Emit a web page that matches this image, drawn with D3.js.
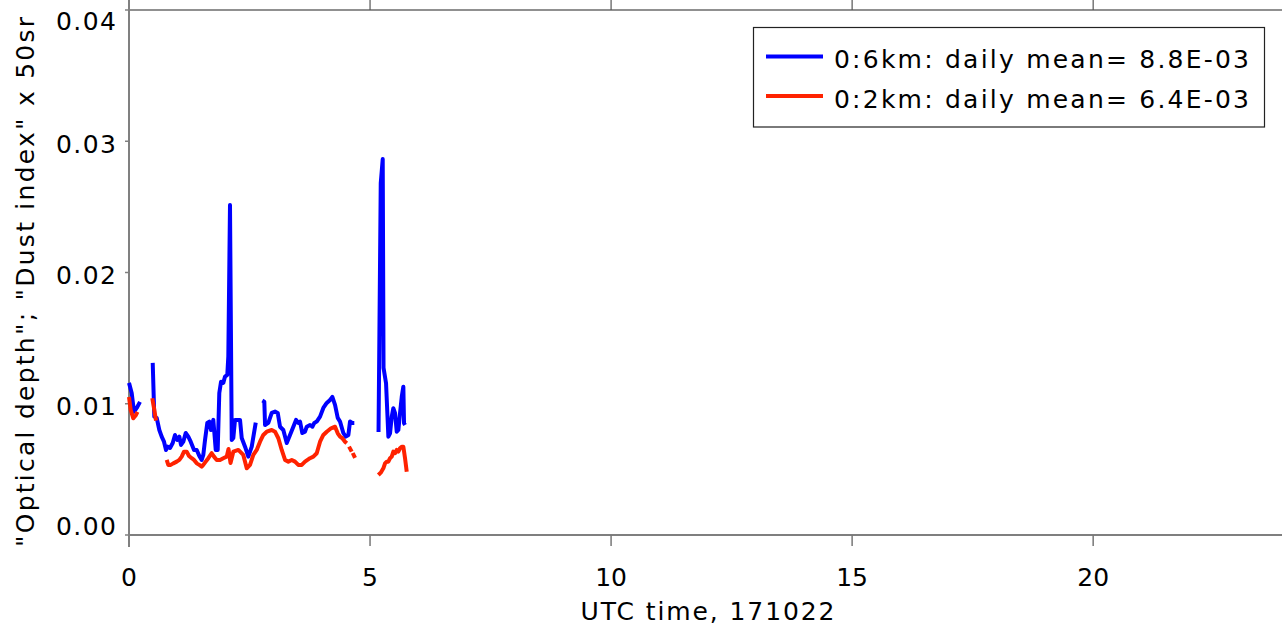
<!DOCTYPE html>
<html>
<head>
<meta charset="utf-8">
<script src="https://cdn.jsdelivr.net/npm/d3@7"></script>
<style>
  html, body { margin: 0; padding: 0; background: #fff; overflow: hidden; }
  svg { display: block; }
  text { font-family: "DejaVu Sans", sans-serif; fill: #000; }
</style>
</head>
<body>
<svg id="chart" width="1282" height="629"></svg>
<script>
// ---------------- data ----------------
const xDomain = [0, 24];
const yDomain = [0, 0.04];
const xTickValues = [0, 5, 10, 15, 20];
const xTickLabels = ["0", "5", "10", "15", "20"];
const yTickValues = [0, 0.01, 0.02, 0.03, 0.04];
const yTickLabels = ["0.00", "0.01", "0.02", "0.03", "0.04"];

// 0:6km series (blue); null marks a data gap
const blueTime = [
  0.000, 0.056, 0.104, 0.160, 0.228, null,
  0.492, 0.525, 0.575, 0.629, 0.678, 0.726, 0.768, 0.803, 0.851, 0.907, 0.954, 1.002, 1.044, 1.079,
  1.127, 1.176, 1.230, 1.280, 1.349, 1.405, 1.459, 1.508, 1.541, 1.577, 1.624, 1.666, 1.701, 1.749,
  1.799, 1.840, 1.873, 1.909, 1.956, 1.992, 2.039, 2.060, 2.095, 2.131, 2.164, 2.199, 2.303, 2.338,
  2.407, 2.475, 2.546, 2.629, null,
  2.766, 2.807, 2.822, 2.890, 2.961, 3.029, 3.085, 3.133, 3.201, 3.272, 3.340, 3.409, 3.465, 3.512,
  3.548, 3.595, 3.651, 3.687, 3.755, 3.803, 3.844, 3.894, 3.963, 4.031, 4.102, 4.170, 4.218, 4.274,
  4.330, 4.378, 4.446, 4.496, 4.550, 4.585, 4.633, 4.674, null,
  5.176, 5.222, 5.263, 5.280, 5.332, 5.380, 5.415, 5.450, 5.483, 5.519, 5.554, 5.587, 5.622, 5.658,
  5.691, 5.705, 5.726
];
const blueValue = [
  0.01159, 0.01082, 0.00938, 0.00968, 0.01014, null,
  0.01311, 0.00902, 0.00892, 0.00800, 0.00749, 0.00711, 0.00648, 0.00673, 0.00663, 0.00701, 0.00762, 0.00724, 0.00749, 0.00686,
  0.00711, 0.00777, 0.00749, 0.00711, 0.00648, 0.00648, 0.00602, 0.00572, 0.00610, 0.00724, 0.00854, 0.00864, 0.00800, 0.00877,
  0.00648, 0.00648, 0.01082, 0.01168, 0.01159, 0.01207, 0.01220, 0.01359, 0.02515, 0.00724, 0.00739, 0.00877, 0.00877, 0.00739,
  0.00673, 0.00597, 0.00673, 0.00856, null,
  0.01024, 0.01016, 0.00838, 0.00854, 0.00930, 0.00940, 0.00930, 0.00825, 0.00800, 0.00701, 0.00762, 0.00825, 0.00877, 0.00854,
  0.00864, 0.00777, 0.00787, 0.00825, 0.00838, 0.00825, 0.00854, 0.00864, 0.00902, 0.00968, 0.01006, 0.01029, 0.01052, 0.00991,
  0.00892, 0.00864, 0.00777, 0.00749, 0.00762, 0.00864, 0.00854, 0.00854, null,
  0.00785, 0.02681, 0.02864, 0.01273, 0.01156, 0.00749, 0.00775, 0.00902, 0.00966, 0.00928, 0.00787, 0.00800, 0.00928, 0.01054,
  0.01130, 0.00851, 0.00838
];

// 0:2km series (red); null marks a data gap
const redTime = [
  0.000, 0.035, 0.089, 0.145, 0.176, null,
  0.483, 0.525, 0.560, null,
  0.782, 0.815, 0.865, 0.919, 0.990, 1.044, 1.093, 1.141, 1.197, 1.245, 1.301, 1.349, 1.405, 1.459,
  1.508, 1.541, 1.591, 1.645, 1.716, 1.763, 1.820, 1.888, 1.956, 2.027, 2.064, 2.106, 2.164, 2.268,
  2.371, 2.442, 2.510, 2.579, 2.649, 2.718, 2.786, 2.857, 2.961, 3.029, 3.098, 3.168, 3.237, 3.305,
  3.376, 3.444, 3.512, 3.583, 3.651, 3.755, 3.824, 3.894, 3.963, 4.031, 4.102, 4.191, 4.274, 4.330,
  4.378, 4.426, 4.481, 4.517, null,
  4.564, 4.620, null,
  4.641, 4.689, null,
  5.172, 5.222, 5.276, 5.311, 5.346, 5.380, 5.415, 5.450, 5.483, 5.519, 5.554, 5.587, 5.622, 5.658,
  5.691, 5.726, 5.761
];
const redValue = [
  0.01052, 0.00953, 0.00889, 0.00915, 0.00938, null,
  0.01042, 0.00953, 0.00871, null,
  0.00572, 0.00534, 0.00534, 0.00546, 0.00559, 0.00572, 0.00597, 0.00635, 0.00635, 0.00602, 0.00585, 0.00572, 0.00546, 0.00534,
  0.00521, 0.00534, 0.00559, 0.00585, 0.00623, 0.00597, 0.00572, 0.00572, 0.00585, 0.00597, 0.00655, 0.00549, 0.00635, 0.00648,
  0.00610, 0.00508, 0.00534, 0.00610, 0.00648, 0.00711, 0.00762, 0.00787, 0.00800, 0.00787, 0.00737, 0.00648, 0.00572, 0.00559,
  0.00572, 0.00559, 0.00534, 0.00534, 0.00559, 0.00585, 0.00597, 0.00623, 0.00711, 0.00762, 0.00787, 0.00813, 0.00825, 0.00775,
  0.00749, 0.00737, 0.00711, 0.00699, null,
  0.00673, 0.00635, null,
  0.00625, 0.00587, null,
  0.00457, 0.00475, 0.00508, 0.00546, 0.00559, 0.00559, 0.00585, 0.00597, 0.00635, 0.00623, 0.00648, 0.00635, 0.00661, 0.00673,
  0.00673, 0.00585, 0.00482
];

const seriesNames = ["0:6km: daily mean= 8.8E-03", "0:2km: daily mean= 6.4E-03"];
const seriesColors = ["#0000ff", "#ff2200"];
const xTitle = "UTC time, 171022";
const yTitle = "\"Optical depth\"; \"Dust index\" x 50sr";

// ---------------- drawing ----------------
(function draw() {
  const svg = d3.select("#chart");
  const W = 1282;
  const pLeft = 129, pRight = 1286, pTop = 10, pBottom = 535;

  const x = d3.scaleLinear().domain(xDomain).range([pLeft, pRight]);
  const y = d3.scaleLinear().domain(yDomain).range([pBottom, pTop]);

  // frame lines
  svg.append("line").attr("x1", pLeft).attr("x2", W).attr("y1", pBottom).attr("y2", pBottom)
    .attr("stroke", "#000").attr("stroke-width", 1.2);
  svg.append("line").attr("x1", pLeft).attr("x2", W).attr("y1", pTop).attr("y2", pTop)
    .attr("stroke", "#222").attr("stroke-width", 1.2);

  // bottom axis ticks (outward) and top ticks (upward, from the panel above)
  const xTicksG = svg.append("g");
  xTickValues.forEach((v, i) => {
    const px = x(v);
    xTicksG.append("line").attr("x1", px).attr("x2", px).attr("y1", pBottom).attr("y2", pBottom + 11)
      .attr("stroke", "#777").attr("stroke-width", 1.5);
    xTicksG.append("line").attr("x1", px).attr("x2", px).attr("y1", 0).attr("y2", pTop)
      .attr("stroke", "#555").attr("stroke-width", 1.2);
    xTicksG.append("text").attr("x", px).attr("y", 586).attr("text-anchor", "middle")
      .attr("font-size", 25).text(xTickLabels[i]);
  });

  // left axis
  svg.append("line").attr("x1", pLeft).attr("x2", pLeft).attr("y1", 0).attr("y2", 547)
    .attr("stroke", "#808080").attr("stroke-width", 2);
  const yTicksG = svg.append("g");
  yTickValues.forEach((v, i) => {
    const py = y(v);
    yTicksG.append("line").attr("x1", pLeft - 4).attr("x2", pLeft).attr("y1", py).attr("y2", py)
      .attr("stroke", "#808080").attr("stroke-width", 1.5);
    const base = Math.max(30, Math.min(pBottom, py + 11.5));
    yTicksG.append("text").attr("x", 116).attr("y", base).attr("text-anchor", "end")
      .attr("font-size", 25).attr("textLength", 60).attr("lengthAdjust", "spacing")
      .text(yTickLabels[i]);
  });

  // titles
  svg.append("text").attr("x", (pLeft + pRight) / 2).attr("y", 620).attr("text-anchor", "middle")
    .attr("font-size", 25).attr("textLength", 254).attr("lengthAdjust", "spacing").text(xTitle);
  svg.append("text").attr("transform", "translate(34,282) rotate(-90)").attr("text-anchor", "middle")
    .attr("font-size", 25).attr("textLength", 530).attr("lengthAdjust", "spacing").text(yTitle);

  // series lines
  const toPoints = (ts, vs) => ts.map((t, i) => [t, vs[i]]);
  const line = d3.line()
    .defined(d => d[0] !== null && d[1] !== null)
    .x(d => x(d[0])).y(d => y(d[1]));

  const plot = svg.append("g");
  [[blueTime, blueValue], [redTime, redValue]].forEach((s, i) => {
    plot.append("path").datum(toPoints(s[0], s[1]))
      .attr("d", line).attr("fill", "none")
      .attr("stroke", seriesColors[i]).attr("stroke-width", 4)
      .attr("stroke-linejoin", "round").attr("stroke-linecap", "butt");
  });

  // legend
  const lg = svg.append("g");
  lg.append("rect").attr("x", 753.5).attr("y", 27.5).attr("width", 511).attr("height", 99.5)
    .attr("fill", "#fff").attr("stroke", "#222").attr("stroke-width", 1.2);
  const legendRows = [56.5, 96];
  const legendBase = [68, 107.5];
  seriesNames.forEach((name, i) => {
    lg.append("line").attr("x1", 766).attr("x2", 823).attr("y1", legendRows[i]).attr("y2", legendRows[i])
      .attr("stroke", seriesColors[i]).attr("stroke-width", 4);
    lg.append("text").attr("x", 834).attr("y", legendBase[i]).attr("font-size", 25)
      .attr("textLength", 415).attr("lengthAdjust", "spacing").text(name);
  });
})();
</script>
</body>
</html>
